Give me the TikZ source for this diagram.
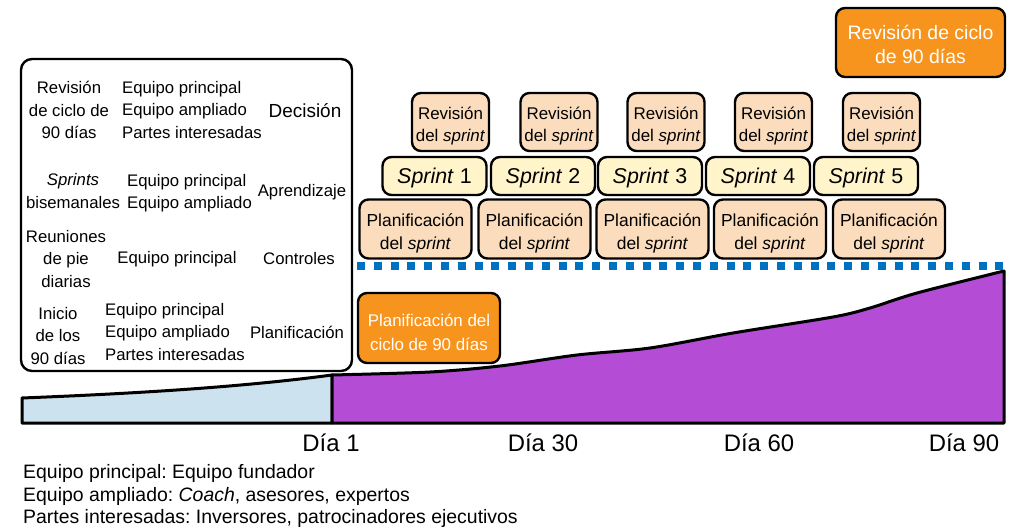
\documentclass[tikz,border=0pt]{standalone}
\usepackage{fontspec}
\setmainfont{Liberation Sans}
\frenchspacing
\definecolor{peach}{RGB}{251,221,189}
\definecolor{paleyellow}{RGB}{255,244,202}
\definecolor{cycleorange}{RGB}{247,148,30}
\definecolor{dotblue}{RGB}{0,112,192}
\definecolor{areablue}{RGB}{204,226,238}
\definecolor{areapurple}{RGB}{180,76,214}
\newcommand{\revlabel}{\rule{0pt}{20.5bp}Revisión\\del \textit{sprint}}
\newcommand{\planlabel}{\rule{0pt}{21bp}Planificación\\del \textit{sprint}}
\tikzset{
  box/.style={draw, line width=2.4bp, rounded corners=9bp, align=center, inner sep=0pt},
  revbox/.style={box, fill=peach, minimum width=77bp, minimum height=58bp,
    font=\fontsize{17}{22}\selectfont},
  sprintbox/.style={box, fill=paleyellow, minimum width=104bp, minimum height=38bp,
    font=\fontsize{21.5}{24}\selectfont, execute at begin node=\rule{0pt}{20bp}},
  planbox/.style={box, fill=peach, minimum width=112bp, minimum height=59bp,
    font=\fontsize{17.5}{23}\selectfont},
  cyclebox/.style={box, fill=cycleorange, text=white},
  panelbox/.style={draw, line width=2.4bp, rounded corners=11bp, inner sep=0pt},
  cell/.style={align=center, inner sep=0pt, font=\fontsize{16.8}{22.5}\selectfont},
  who/.style={cell, align=left, anchor=west},
  day/.style={inner sep=0pt, font=\fontsize{24}{28}\selectfont},
  legend/.style={inner sep=0pt, anchor=west, font=\fontsize{19.5}{23}\selectfont},
  area/.style={line width=3bp, line join=round}
}
\begin{document}
\begin{tikzpicture}[x=1bp, y=-1bp]
        \useasboundingbox (0,0) rectangle (1025,528);

        % Area under the curve
        \filldraw[area, fill=areablue] (22,423) -- (22,398)
            .. controls (150,393) and (250,386) .. (332,375) -- (332,423) -- cycle;
        \filldraw[area, fill=areapurple] (332,423) -- (332,375)
            -- plot[smooth, tension=0.5] coordinates {(332,375) (430,372) (500,366) (577,355)
               (650,348) (733,333) (833,317) (870,308) (917,293) (1004,271)}
            -- (1004,423) -- cycle;

        % Dotted line
        \draw[dotblue, line width=8bp, dash pattern=on 8bp off 8.8bp] (357,266) -- (1003,266);

        % Left panel
        \node (panel) [panelbox, minimum width=331bp, minimum height=312bp] at (186.5,215) {};

        \node (meet1) [cell] at (69,110) {Revisión\\de ciclo de\\90 días};
        \node (team1) [who] at (122,110) {Equipo principal\\Equipo ampliado\\Partes interesadas};
        \node (goal1) [cell, font=\fontsize{19}{22}\selectfont] at (305,111) {Decisión};

        \node (meet2) [cell] at (73,191) {\textit{Sprints}\\bisemanales};
        \node (team2) [who] at (127,193) {Equipo principal\\Equipo ampliado};
        \node (goal2) [cell] at (302,192) {Aprendizaje};

        \node (meet3) [cell] at (66,259) {Reuniones\\de pie\\diarias};
        \node (team3) [cell] at (177,259) {Equipo principal};
        \node (goal3) [cell] at (299,259) {Controles};

        \node (meet4) [cell] at (58,336) {Inicio\\de los\\90 días};
        \node (team4) [who] at (105,332) {Equipo principal\\Equipo ampliado\\Partes interesadas};
        \node (goal4) [cell] at (297,332) {Planificación};

        % Cycle boxes
        \node (cyclerev) [cyclebox, minimum width=169bp, minimum height=69bp,
              font=\fontsize{19.5}{24}\selectfont]
              at (920.5,42.5) {\rule{0pt}{19bp}Revisión de ciclo\\de 90 días};
        \node (cycleplan) [cyclebox, minimum width=142bp, minimum height=70bp,
              font=\fontsize{17}{24}\selectfont]
              at (429,328) {\rule{0pt}{21bp}Planificación del\\ciclo de 90 días};

        % Sprint reviews
        \node (rev1) [revbox] at (450.5,122) {\revlabel};
        \node (rev2) [revbox] at (559,122) {\revlabel};
        \node (rev3) [revbox] at (666,122) {\revlabel};
        \node (rev4) [revbox] at (773.5,122) {\revlabel};
        \node (rev5) [revbox] at (881.5,122) {\revlabel};

        % Sprints
        \node (sprint1) [sprintbox] at (434.5,176) {\textit{Sprint} 1};
        \node (sprint2) [sprintbox] at (543,176) {\textit{Sprint} 2};
        \node (sprint3) [sprintbox] at (650,176) {\textit{Sprint} 3};
        \node (sprint4) [sprintbox] at (758,176) {\textit{Sprint} 4};
        \node (sprint5) [sprintbox] at (866,176) {\textit{Sprint} 5};

        % Sprint planning
        \node (plan1) [planbox] at (415.5,229) {\planlabel};
        \node (plan2) [planbox] at (534.5,229) {\planlabel};
        \node (plan3) [planbox] at (652.5,229) {\planlabel};
        \node (plan4) [planbox] at (770,229) {\planlabel};
        \node (plan5) [planbox] at (889,229) {\planlabel};

        % Day labels
        \node (day1) [day] at (331,443) {Día 1};
        \node (day30) [day] at (543,443) {Día 30};
        \node (day60) [day] at (759,443) {Día 60};
        \node (day90) [day] at (964,443) {Día 90};

        % Legend
        \node (leg1) [legend] at (23,473) {Equipo principal: Equipo fundador};
        \node (leg2) [legend] at (23,496) {Equipo ampliado: \textit{Coach}, asesores, expertos};
        \node (leg3) [legend] at (23,518) {Partes interesadas: Inversores, patrocinadores ejecutivos};

    \end{tikzpicture}
\end{document}
